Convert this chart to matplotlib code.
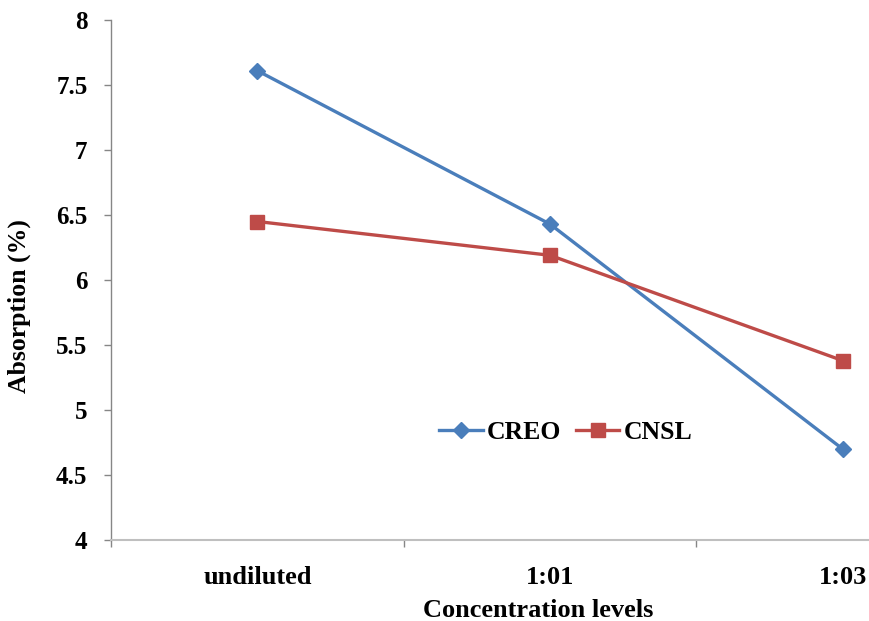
import matplotlib
matplotlib.use("Agg")
import matplotlib.pyplot as plt

categories = ["undiluted", "1:01", "1:03"]
creo = [7.61, 6.43, 4.70]
cnsl = [6.45, 6.19, 5.38]
yticks = [4, 4.5, 5, 5.5, 6, 6.5, 7, 7.5, 8]
ytick_labels = ["4", "4.5", "5", "5.5", "6", "6.5", "7", "7.5", "8"]

plt.rcParams['font.family'] = ['Liberation Serif', 'DejaVu Serif']
plt.rcParams['font.weight'] = 'bold'

fig = plt.figure(figsize=(8.69, 6.21), dpi=100)
W, H = 869, 621
left, right, top, bottom = 111, 989, 20, 540
ax = fig.add_axes([left / W, (H - bottom) / H, (right - left) / W, (bottom - top) / H])

x = list(range(len(categories)))
ax.plot(x, creo, color='#4A7EBB', lw=2.4, marker='D', ms=8, label='CREO', zorder=3)
ax.plot(x, cnsl, color='#BE4B48', lw=2.4, marker='s', ms=9.5, label='CNSL', zorder=3)

ax.set_xlim(-0.5, len(categories) - 0.5)
ax.set_ylim(4, 8)
ax.set_yticks(yticks)
ax.set_yticklabels(ytick_labels, fontsize=18, fontweight='bold')
ax.set_xticks([i - 0.5 for i in range(len(categories) + 1)])
ax.set_xticklabels([])
ax.set_xticks(x, minor=True)
ax.set_xticklabels(categories, minor=True, fontsize=19, fontweight='bold')
ax.tick_params(axis='x', which='minor', length=0, pad=19)
ax.tick_params(axis='x', which='major', length=5, width=1, color='#868686', direction='out')
ax.tick_params(axis='y', length=5, width=1, color='#868686', direction='out', pad=12)

for s in ['top', 'right']:
    ax.spines[s].set_visible(False)
ax.spines['left'].set_color('#868686')
ax.spines['left'].set_linewidth(1)
ax.spines['bottom'].set_color('#BFBFBF')
ax.spines['bottom'].set_linewidth(1.5)

fig.text(19 / W, (H - 306) / H, 'Absorption (%)', rotation=90, ha='center', va='center',
         fontsize=18.5, fontweight='bold')
fig.text(538 / W, (H - 599) / H, 'Concentration levels', ha='center', va='top',
         fontsize=19, fontweight='bold')

leg = ax.legend(loc='center', bbox_to_anchor=(0.5177, 0.206), ncol=2, frameon=False,
                prop={'size': 18.5, 'weight': 'bold'}, handlelength=1.7, handletextpad=0.15,
                columnspacing=0.58, borderpad=0, borderaxespad=0)

fig.savefig('out.png', dpi=100)
